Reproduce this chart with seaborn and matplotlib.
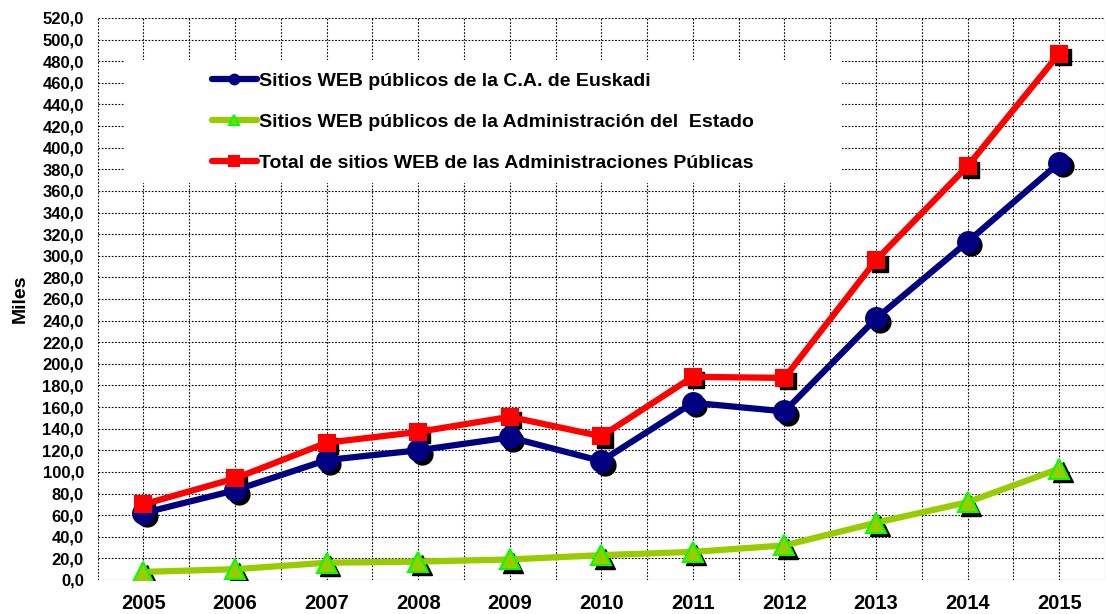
import matplotlib
matplotlib.use("Agg")
import matplotlib.pyplot as plt
import matplotlib.transforms as mtransforms
from matplotlib.lines import Line2D
from matplotlib.patches import Rectangle
import numpy as np
import pandas as pd
import seaborn as sns

years = [2005, 2006, 2007, 2008, 2009, 2010, 2011, 2012, 2013, 2014, 2015]
euskadi = [62, 83, 111, 120, 132, 110, 164, 156, 242, 313, 386]
estado = [7.5, 10, 16, 17, 19, 23, 26, 32, 53, 72, 103]
total = [70, 94, 127, 137, 151, 133, 188, 187, 296, 383, 487]

labels = ["Sitios WEB públicos de la C.A. de Euskadi",
          "Sitios WEB públicos de la Administración del  Estado",
          "Total de sitios WEB de las Administraciones Públicas"]

df = pd.DataFrame({"year": years, "euskadi": euskadi, "estado": estado, "total": total})

sns.set_style("white")
plt.rcParams['font.family'] = ['Liberation Sans', 'DejaVu Sans']
plt.rcParams['font.weight'] = 'bold'
plt.rcParams['text.color'] = 'black'
plt.rcParams['axes.labelcolor'] = 'black'
plt.rcParams['xtick.color'] = 'black'
plt.rcParams['ytick.color'] = 'black'

fig = plt.figure(figsize=(11.07, 6.14), dpi=100)
ax = fig.add_axes([97.7 / 1107, 34 / 614, (1105 - 97.7) / 1107, (580 - 18) / 614])

# series styles: (column, line colour, marker, marker face, marker edge, size)
styles = [
    ("euskadi", "#000080", "o", "#000080", "#000080", 15),
    ("estado", "#99CC00", "^", "#99CC00", "#00FF00", 15),
    ("total", "#FF0000", "s", "#FF0000", "#FF0000", 12),
]

shadow = mtransforms.offset_copy(ax.transData, fig=fig, x=3.5, y=-3.5, units='dots')
for col, lc, mk, mf, me, ms in styles:
    ax.plot(df["year"], df[col], linestyle='none', marker=mk, markersize=ms,
            color='black', transform=shadow, zorder=3)
for col, lc, mk, mf, me, ms in styles:
    sns.lineplot(data=df, x="year", y=col, ax=ax, color=lc, linewidth=4.5,
                 marker=mk, markersize=ms, markerfacecolor=mf, markeredgecolor=me,
                 markeredgewidth=1.5, zorder=4)

ax.set_xlim(2004.5, 2015.38)
ax.set_ylim(0, 520)
ax.set_xticks(years)
ax.set_xticks(np.arange(2004.5, 2015.6, 1.0), minor=True)
ax.set_yticks(np.arange(0, 521, 20))
ax.set_yticklabels([f"{v:.1f}".replace('.', ',') for v in np.arange(0, 521, 20)])
ax.grid(True, which='both', color='black', linestyle=(0, (1.5, 1.5)), linewidth=0.8)
ax.set_axisbelow(True)
for s in ax.spines.values():
    s.set_visible(False)
ax.tick_params(axis='x', which='both', length=0, pad=10, labelsize=14.5)
ax.tick_params(axis='y', which='both', length=0, pad=10, labelsize=12)
for t in ax.get_xticklabels() + ax.get_yticklabels():
    t.set_fontweight('bold')
ax.set_xlabel("")
ax.set_ylabel("Miles", fontsize=14, fontweight='bold')
ax.yaxis.set_label_coords(-0.068, 0.5)

# white area behind the legend
ax.add_patch(Rectangle((125 / 1107, 1 - 183 / 614), (842 - 125) / 1107, 123 / 614,
                       transform=fig.transFigure, facecolor='white', edgecolor='none',
                       zorder=1.5))

handles = [Line2D([], [], color=lc, linewidth=4.5, marker=mk, markersize=7,
                  markerfacecolor=mf, markeredgecolor=me, markeredgewidth=1.5)
           for col, lc, mk, mf, me, ms in styles]
leg = ax.legend(handles, labels, loc='upper left', bbox_to_anchor=(212 / 1107, 1 - 72 / 614),
                bbox_transform=fig.transFigure, frameon=False, borderpad=0,
                borderaxespad=0, handlelength=2.3, handletextpad=0.1,
                labelspacing=1.22, prop={'size': 14, 'weight': 'bold'})
leg.set_zorder(5)

fig.savefig("out.png", dpi=100)
